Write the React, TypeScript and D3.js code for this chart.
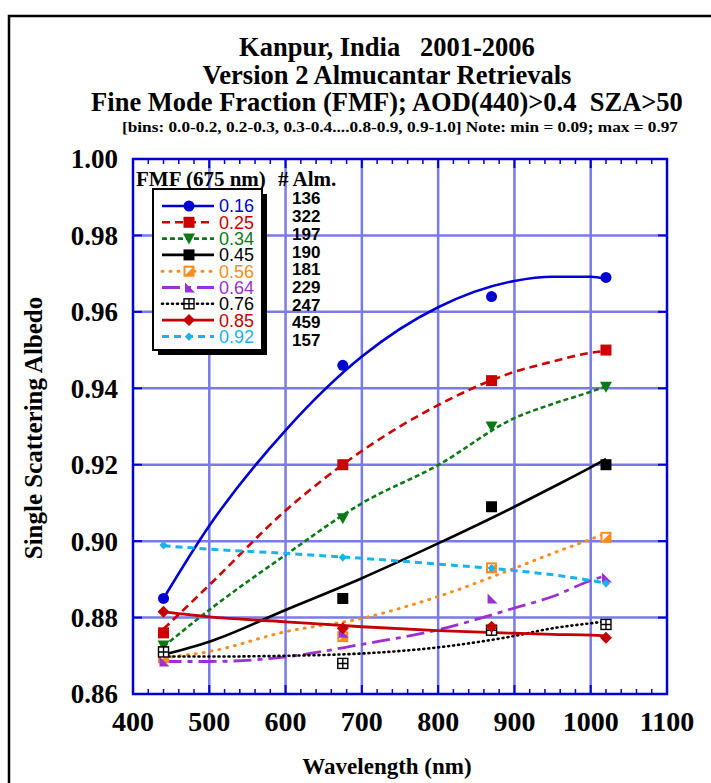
import React from "react";
import * as d3 from "d3";

const width = 711;
const height = 783;
const margin = { top: 159, left: 133, bottom: 89, right: 44 };
const iwidth = width - margin.left - margin.right;
const iheight = height - margin.top - margin.bottom;

// observed wavelengths (nm) and legend info
const wavelengths = [440, 675, 870, 1020];
const fmfLabels = ["0.16", "0.25", "0.34", "0.45", "0.56", "0.64", "0.76", "0.85", "0.92"];
const almCounts = [136, 322, 197, 190, 181, 229, 247, 459, 157];

// single scattering albedo at each wavelength, per FMF bin
const ssa016 = [0.885, 0.946, 0.964, 0.969];
const ssa025 = [0.876, 0.92, 0.942, 0.95];
const ssa034 = [0.8727, 0.906, 0.93, 0.9404];
const ssa045 = [0.871, 0.885, 0.909, 0.92];
const ssa056 = [0.8695, 0.875, 0.893, 0.901];
const ssa064 = [0.8685, 0.876, 0.885, 0.8905];
const ssa076 = [0.871, 0.868, 0.8767, 0.8782];
const ssa085 = [0.8815, 0.8772, 0.8776, 0.8747];
const ssa092 = [0.899, 0.8958, 0.893, 0.889];

// fitted curves, read along the wavelength grid
const fitWavelengths = [440, 500, 600, 700, 800, 900, 950, 1000, 1020];
const fit016 = [0.885, 0.904, 0.929, 0.9483, 0.9612, 0.9681, 0.9692, 0.9692, 0.9686];
const fit025 = [0.877, 0.8885, 0.908, 0.9236, 0.9356, 0.9443, 0.947, 0.9493, 0.9498];
const fit034 = [0.8724, 0.882, 0.8964, 0.9099, 0.9199, 0.9322, 0.9359, 0.9391, 0.9405];
const fit045 = [0.8703, 0.8737, 0.882, 0.8903, 0.8994, 0.909, 0.9141, 0.9193, 0.9215];
const fit056 = [0.8695, 0.8711, 0.8763, 0.8798, 0.8855, 0.8929, 0.8968, 0.9005, 0.902];
const fit064 = [0.8685, 0.8685, 0.8697, 0.873, 0.8768, 0.8825, 0.8855, 0.8897, 0.891];
const fit076 = [0.8698, 0.8698, 0.87, 0.8706, 0.8722, 0.8752, 0.8772, 0.8785, 0.879];
const fit085 = [0.8815, 0.8802, 0.8789, 0.8776, 0.8766, 0.8759, 0.8756, 0.8754, 0.8752];
const fit092 = [0.8988, 0.8979, 0.8968, 0.8955, 0.894, 0.8923, 0.8912, 0.8897, 0.889];

const xTicks = [400, 500, 600, 700, 800, 900, 1000, 1100];
const yTicks = [0.86, 0.88, 0.9, 0.92, 0.94, 0.96, 0.98, 1.0];

const series = [
  { obs: ssa016, fit: fit016, color: "#0000d4", dash: "none", marker: "circle", lw: 2.6 },
  { obs: ssa025, fit: fit025, color: "#cc0000", dash: "8,5", marker: "square", lw: 2.6 },
  { obs: ssa034, fit: fit034, color: "#0b7a16", dash: "5,3", marker: "triangle", lw: 2.6 },
  { obs: ssa045, fit: fit045, color: "#000000", dash: "none", marker: "square", lw: 2.6 },
  { obs: ssa056, fit: fit056, color: "#ff8c1a", dash: "1,7", marker: "half", lw: 3 },
  { obs: ssa064, fit: fit064, color: "#9b2fd8", dash: "18,6,5,6", marker: "wedge", lw: 2.8 },
  { obs: ssa076, fit: fit076, color: "#000000", dash: "1,4", marker: "boxplus", lw: 2.6 },
  { obs: ssa085, fit: fit085, color: "#c40000", dash: "none", marker: "diamond", lw: 2.8 },
  { obs: ssa092, fit: fit092, color: "#1ab2ec", dash: "7,5", marker: "dot", lw: 3 },
];

const Marker = ({ kind, x, y, color }) => {
  const t = `translate(${x},${y})`;
  if (kind === "circle") return <circle cx={x} cy={y} r={5.5} fill={color} />;
  if (kind === "square") return <rect x={x - 5.5} y={y - 5.5} width={11} height={11} fill={color} />;
  if (kind === "triangle") return <path transform={t} d="M-6,-5L6,-5L0,6Z" fill={color} />;
  if (kind === "half")
    return (
      <g transform={t}>
        <rect x={-4.5} y={-4.5} width={9} height={9} fill="#fff" stroke={color} strokeWidth={2} />
        <path d="M4.5,-4.5L4.5,4.5L-4.5,4.5Z" fill={color} />
      </g>
    );
  if (kind === "wedge") return <path transform={t} d="M-4,-5L-4,5L6,5Z" fill={color} />;
  if (kind === "boxplus")
    return (
      <g transform={t} stroke={color} strokeWidth={1.4} fill="#fff">
        <rect x={-5} y={-5} width={10} height={10} />
        <path d="M0,-5V5M-5,0H5" />
      </g>
    );
  if (kind === "diamond") return <path transform={t} d="M0,-6L6,0L0,6L-6,0Z" fill={color} />;
  return <path transform={t} d="M0,-4L4,0L0,4.5L-4,0Z" fill={color} />;
};

const serifStyle = { fontFamily: "Liberation Serif, Times New Roman, DejaVu Serif, serif", fontWeight: "bold" };
const sansStyle = { fontFamily: "Liberation Sans, Arial, Helvetica, sans-serif" };

const App = () => {
  const x = d3.scaleLinear().domain([400, 1100]).range([0, iwidth]);
  const y = d3.scaleLinear().domain([0.86, 1.0]).range([iheight, 0]);
  const line = d3
    .line()
    .x((d) => x(d[0]))
    .y((d) => y(d[1]))
    .curve(d3.curveMonotoneX);
  const minor = d3.range(400, 1101, 20).filter((v) => v % 100 !== 0);
  const gridColor = "#7a7ae8";
  const axisColor = "#0000d8";

  const lx = 162;
  const rowY = (i) => 206 + i * 16.3;
  const cap = (s) => (s.dash === "1,7" || s.dash === "1,4" ? "round" : "butt");

  return (
    <svg width={width} height={height} style={{ position: "absolute", left: 0, top: 0 }}>
      <rect width={width} height={height} fill="#fff" />
      <path d={`M9,${height}V16H${width}`} fill="none" stroke="#000" strokeWidth={2.5} />

      <g style={serifStyle} textAnchor="middle" fill="#000">
        <text x={387} y={56} fontSize={26.5}>Kanpur, India{"\u00a0\u00a0\u00a0"}2001-2006</text>
        <text x={387} y={83.5} fontSize={26.5}>Version 2 Almucantar Retrievals</text>
        <text x={387} y={111} fontSize={26.5}>Fine Mode Fraction (FMF); AOD(440)&gt;0.4{"\u00a0\u00a0"}SZA&gt;50</text>
        <text x={400} y={132} fontSize={14} textLength={556} lengthAdjust="spacingAndGlyphs">
          [bins: 0.0-0.2, 0.2-0.3, 0.3-0.4....0.8-0.9, 0.9-1.0] Note: min = 0.09; max = 0.97
        </text>
      </g>

      <g transform={`translate(${margin.left},${margin.top})`}>
        {xTicks.slice(1, -1).map((t) => (
          <line key={"gx" + t} x1={x(t)} x2={x(t)} y1={0} y2={iheight} stroke={gridColor} strokeWidth={2.5} />
        ))}
        {yTicks.slice(1, -1).map((t) => (
          <line key={"gy" + t} x1={0} x2={iwidth} y1={y(t)} y2={y(t)} stroke={gridColor} strokeWidth={2.5} />
        ))}
        {minor.map((t) => (
          <g key={"m" + t} stroke={axisColor} strokeWidth={1.5}>
            <line x1={x(t)} x2={x(t)} y1={iheight} y2={iheight - 5} />
            <line x1={x(t)} x2={x(t)} y1={0} y2={5} />
          </g>
        ))}
        {xTicks.map((t) => (
          <g key={"mx" + t} stroke={axisColor} strokeWidth={2}>
            <line x1={x(t)} x2={x(t)} y1={iheight} y2={iheight - 9} />
            <line x1={x(t)} x2={x(t)} y1={0} y2={9} />
          </g>
        ))}
        {yTicks.map((t) => (
          <g key={"my" + t} stroke={axisColor} strokeWidth={2}>
            <line x1={0} x2={9} y1={y(t)} y2={y(t)} />
            <line x1={iwidth} x2={iwidth - 9} y1={y(t)} y2={y(t)} />
          </g>
        ))}
        <rect x={0} y={0} width={iwidth} height={iheight} fill="none" stroke={axisColor} strokeWidth={2.5} />

        {series.map((s, i) => (
          <path
            key={"f" + i}
            d={line(fitWavelengths.map((w, j) => [w, s.fit[j]]))}
            fill="none"
            stroke={s.color}
            strokeWidth={s.lw}
            strokeDasharray={s.dash}
            strokeLinecap={cap(s)}
          />
        ))}
        {series.map((s, i) =>
          wavelengths.map((w, j) => (
            <Marker key={"p" + i + "-" + j} kind={s.marker} x={x(w)} y={y(s.obs[j])} color={s.color} />
          ))
        )}

        <g style={serifStyle} fill="#000">
          {yTicks.map((t) => (
            <text key={"ty" + t} x={-15} y={y(t)} dy="0.35em" textAnchor="end" fontSize={27}>
              {d3.format(".2f")(t)}
            </text>
          ))}
          {xTicks.map((t) => (
            <text key={"tx" + t} x={x(t)} y={iheight + 37} textAnchor="middle" fontSize={28}>
              {t}
            </text>
          ))}
        </g>
      </g>

      <g style={serifStyle} textAnchor="middle" fill="#000">
        <text x={387} y={774} fontSize={23}>Wavelength (nm)</text>
        <text transform="translate(42,428) rotate(-90)" fontSize={25}>Single Scattering Albedo</text>
      </g>

      {/* legend */}
      <g style={serifStyle} fontSize={21} fill="#000">
        <text x={136} y={186}>FMF (675 nm)</text>
        <text x={278} y={186}># Alm.</text>
      </g>
      <rect x={158} y={194} width={109} height={161} fill="#000" />
      <rect x={153} y={189} width={109} height={161} fill="#fff" stroke="#000" strokeWidth={2} />
      {series.map((s, i) => (
        <g key={"l" + i}>
          <line
            x1={lx}
            x2={lx + 52}
            y1={rowY(i)}
            y2={rowY(i)}
            stroke={s.color}
            strokeWidth={s.lw}
            strokeDasharray={s.dash}
            strokeLinecap={cap(s)}
          />
          <Marker kind={s.marker} x={lx + 27} y={rowY(i)} color={s.color} />
          <text x={219} y={rowY(i)} dy="0.36em" style={sansStyle} fontSize={18} fill={s.color}>
            {fmfLabels[i]}
          </text>
        </g>
      ))}
      <g style={{ ...sansStyle, fontWeight: "bold" }} fontSize={17} fill="#000">
        {almCounts.map((c, i) => (
          <text key={"c" + i} x={292} y={198.3 + i * 17.7} dy="0.36em">
            {c}
          </text>
        ))}
      </g>
    </svg>
  );
};

export default App;
